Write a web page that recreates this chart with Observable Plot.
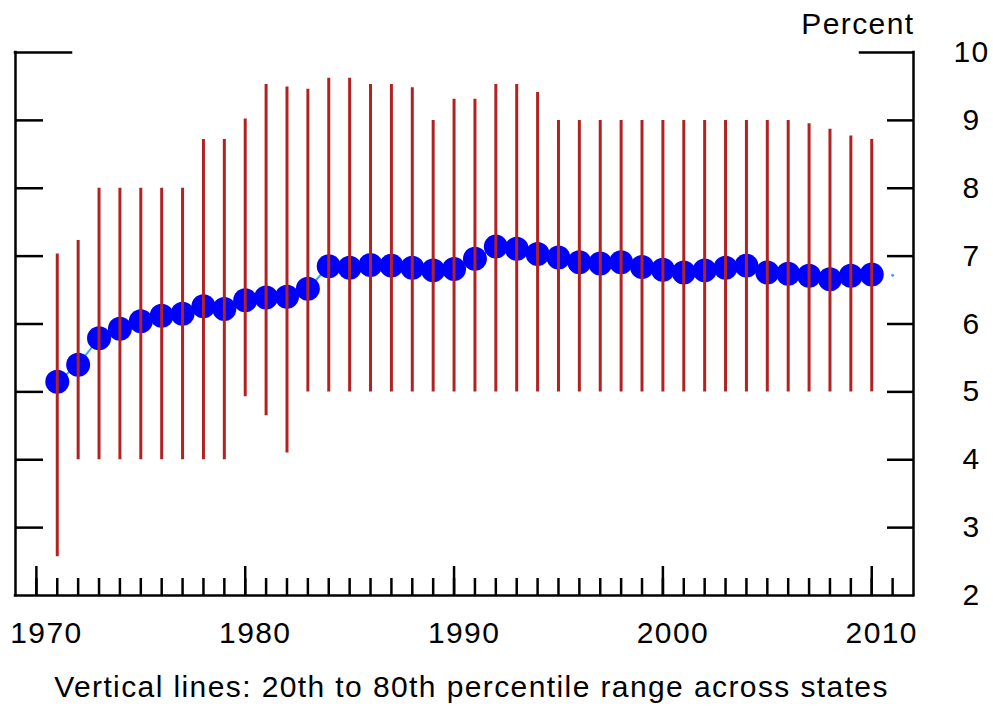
<!DOCTYPE html>
<html>
<head>
<meta charset="utf-8">
<script src="https://cdn.jsdelivr.net/npm/d3@7"></script>
<script src="https://cdn.jsdelivr.net/npm/@observablehq/plot@0.6"></script>
<style>
  html, body { margin: 0; padding: 0; background: #fff; }
  svg { display: block; }
</style>
</head>
<body>
<div id="chart"></div>
<script>
// ---- Data ----
const years = [1971, 1972, 1973, 1974, 1975, 1976, 1977, 1978, 1979, 1980,
               1981, 1982, 1983, 1984, 1985, 1986, 1987, 1988, 1989, 1990,
               1991, 1992, 1993, 1994, 1995, 1996, 1997, 1998, 1999, 2000,
               2001, 2002, 2003, 2004, 2005, 2006, 2007, 2008, 2009, 2010];
// median across states (blue dots)
const median = [5.15, 5.40, 5.79, 5.93, 6.04, 6.12, 6.15, 6.26, 6.22, 6.35,
                6.39, 6.40, 6.52, 6.85, 6.83, 6.87, 6.86, 6.83, 6.79, 6.81,
                6.96, 7.14, 7.11, 7.03, 6.98, 6.91, 6.89, 6.91, 6.84, 6.80,
                6.76, 6.79, 6.83, 6.86, 6.76, 6.74, 6.71, 6.66, 6.71, 6.73];
// 20th percentile (bottom of red lines)
const p20 = [2.57, 4.0, 4.0, 4.0, 4.0, 4.0, 4.0, 4.0, 4.0, 4.93,
             4.65, 4.10, 5.0, 5.0, 5.0, 5.0, 5.0, 5.0, 5.0, 5.0,
             5.0, 5.0, 5.0, 5.0, 5.0, 5.0, 5.0, 5.0, 5.0, 5.0,
             5.0, 5.0, 5.0, 5.0, 5.0, 5.0, 5.0, 5.0, 5.0, 5.0];
// 80th percentile (top of red lines)
const p80 = [7.03, 7.23, 8.0, 8.0, 8.0, 8.0, 8.0, 8.72, 8.72, 9.02,
             9.53, 9.49, 9.46, 9.62, 9.62, 9.53, 9.53, 9.48, 9.0, 9.31,
             9.31, 9.53, 9.53, 9.41, 9.0, 9.0, 9.0, 9.0, 9.0, 9.0,
             9.0, 9.0, 9.0, 9.0, 9.0, 9.0, 8.95, 8.87, 8.77, 8.72];
// small trailing point of the connecting line
const tailYears = [2011];
const tailValues = [6.72];

// ---- Scales / ticks ----
const xDomain = [1969, 2012];
const yDomain = [2, 10];
const xMinorTicks = [1970, 1971, 1972, 1973, 1974, 1975, 1976, 1977, 1978, 1979,
                     1980, 1981, 1982, 1983, 1984, 1985, 1986, 1987, 1988, 1989,
                     1990, 1991, 1992, 1993, 1994, 1995, 1996, 1997, 1998, 1999,
                     2000, 2001, 2002, 2003, 2004, 2005, 2006, 2007, 2008, 2009,
                     2010, 2011];
const xMajorTicks = [1970, 1980, 1990, 2000, 2010];
const yInnerTicks = [3, 4, 5, 6, 7, 8, 9];
const yTopTick = [10];
const yTickLabels = [2, 3, 4, 5, 6, 7, 8, 9, 10];
const unitLabel = ["Percent"];
const captionText = ["Vertical lines: 20th to 80th percentile range across states"];

// ---- Build table ----
const data = years.map((year, i) => ({year, median: median[i], lo: p20[i], hi: p80[i]}));
const tail = tailYears.map((year, i) => ({year, value: tailValues[i]}));

const W = 993, H = 707;
const mL = 15, mR = 80, mT = 52, mB = 112;
const plotW = W - mL - mR;
const plotH = H - mT - mB;
const FS = 30;
const axisStroke = {stroke: "#000", strokeWidth: 2.5};

const chart = Plot.plot({
  width: W,
  height: H,
  marginLeft: mL,
  marginRight: mR,
  marginTop: mT,
  marginBottom: mB,
  x: {domain: xDomain, axis: null},
  y: {domain: yDomain, axis: null},
  style: {fontFamily: "'Liberation Sans', Arial, Helvetica, sans-serif", fontSize: FS + "px", letterSpacing: "1.4px", background: "#fff", color: "#000"},
  marks: [
    Plot.line(data, {x: "year", y: "median", stroke: "#3aa6f2", strokeWidth: 2}),
    Plot.dot(tail, {x: "year", y: "value", r: 1.5, fill: "#3aa6f2"}),
    Plot.dot(data, {x: "year", y: "median", r: 12, fill: "#0000ff"}),
    Plot.ruleX(data, {x: "year", y1: "lo", y2: "hi", stroke: "#b22222", strokeWidth: 3}),
    // frame: left, right, bottom
    Plot.ruleX(xDomain, {...axisStroke, strokeLinecap: "square"}),
    Plot.ruleY([yDomain[0]], {...axisStroke, strokeLinecap: "square"}),
    // y ticks, inward
    Plot.tickY(yInnerTicks, {y: d => d, insetRight: plotW - 28, ...axisStroke}),
    Plot.tickY(yInnerTicks, {y: d => d, insetLeft: plotW - 26, ...axisStroke}),
    Plot.tickY(yTopTick, {y: d => d, insetRight: plotW - 56, ...axisStroke, strokeLinecap: "square"}),
    Plot.tickY(yTopTick, {y: d => d, insetLeft: plotW - 53, ...axisStroke, strokeLinecap: "square"}),
    // x ticks, inward
    Plot.tickX(xMinorTicks, {x: d => d, insetTop: plotH - 17, ...axisStroke}),
    Plot.tickX(xMajorTicks, {x: d => d, insetTop: plotH - 29, ...axisStroke}),
    // labels
    Plot.text(xMajorTicks, {x: d => d, text: d => String(d), frameAnchor: "bottom", dx: 10, dy: 38, lineAnchor: "middle", fill: "#000"}),
    Plot.text(yTickLabels, {y: d => d, text: d => String(d), frameAnchor: "right", dx: 58, textAnchor: "middle", lineAnchor: "middle", fill: "#000"}),
    Plot.text(unitLabel, {frameAnchor: "top-right", textAnchor: "end", lineAnchor: "bottom", dx: 1, dy: -19, fill: "#000"}),
    Plot.text(captionText, {frameAnchor: "bottom", dx: 7, dy: 101, lineAnchor: "bottom", fill: "#000"})
  ]
});

document.getElementById("chart").appendChild(chart);
</script>
</body>
</html>
